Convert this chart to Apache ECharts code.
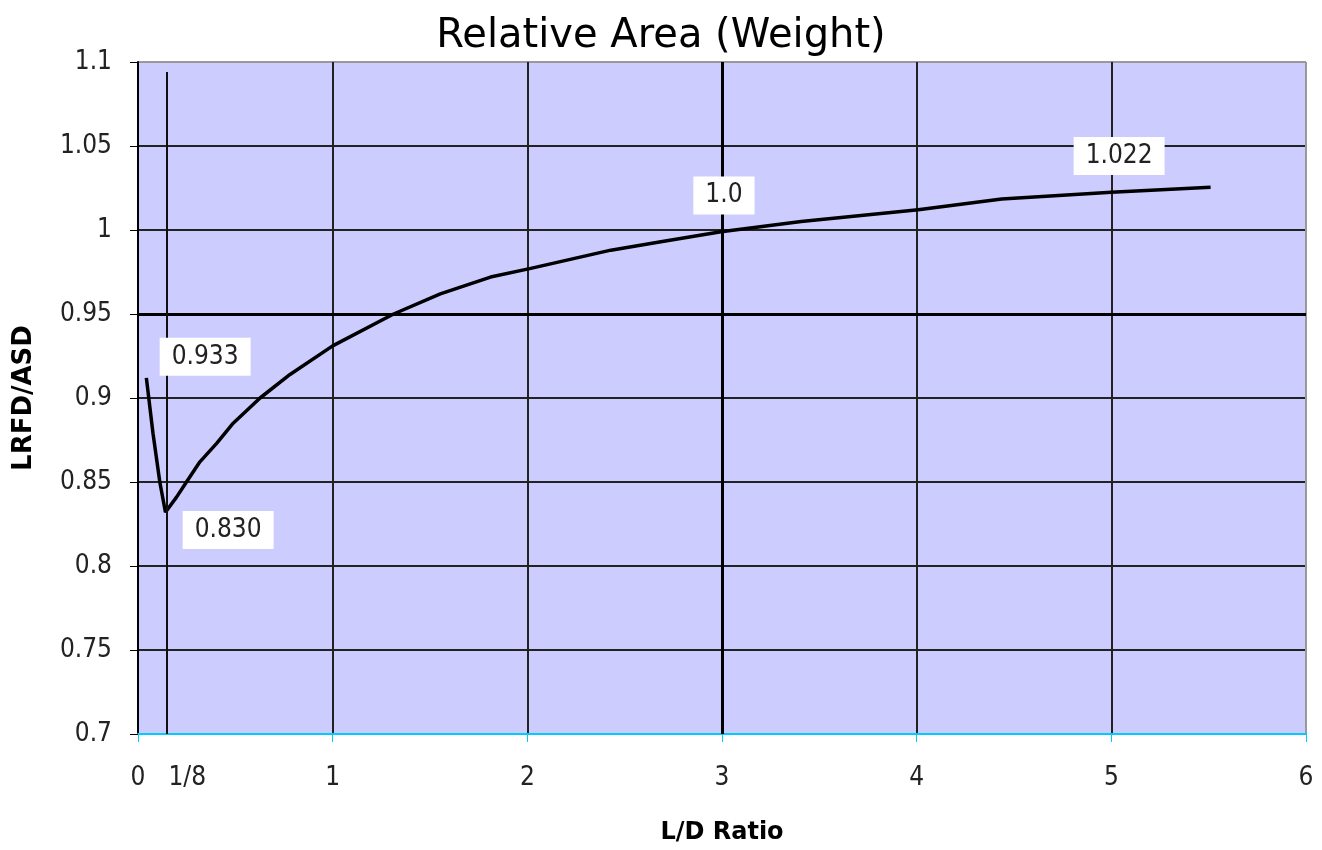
<!DOCTYPE html>
<html><head><meta charset="utf-8">
<script src="https://cdn.jsdelivr.net/npm/echarts@6/dist/echarts.min.js"></script>
<style>html,body{margin:0;padding:0;background:#fff}#c{width:1322px;height:850px}</style>
</head><body><div id="c"></div>
<script>
// L/D ratio (x) and LRFD/ASD (y)
const ldRatio = [0.043,0.077,0.112,0.141,0.198,0.249,0.318,0.404,0.489,0.627,0.781,1.0,1.313,1.553,1.811,2.012,2.429,2.686,2.995,3.407,4.008,4.437,5.0,5.51];
const lrfdAsd = [0.912,0.879,0.850,0.832,0.841,0.850,0.862,0.873,0.885,0.900,0.914,0.931,0.950,0.962,0.972,0.977,0.988,0.993,0.999,1.005,1.012,1.0185,1.0225,1.0255];
// annotation boxes
const noteText = ['0.933','0.830','1.0','1.022'];
const noteX = [0.345,0.463,3.01,5.04];
const noteY = [0.9245,0.8214,1.0205,1.044];
// reference marker lines
const eighthX = 0.15;
const refY = 0.95;
const refX = 3;

const FONT = '"DejaVu Sans Condensed","DejaVu Sans",sans-serif';
const chart = echarts.init(document.getElementById('c'), null, {renderer:'canvas'});
const gridColX = ['#222','#222','#222','#222','#222','#222','#999'];
const gridColY = ['#222','#222','#222','#222','#222','#222','#222','#222','#999'];
chart.setOption({
  animation:false,
  backgroundColor:'#fff',
  title:{text:'Relative Area (Weight)',left:'center',top:12,
    textStyle:{fontFamily:'"DejaVu Sans",sans-serif',fontSize:40,fontWeight:'normal',color:'#000'}},
  grid:{left:138,right:16,top:62,bottom:109,show:true,backgroundColor:'#CCCCFF',borderColor:'#999',borderWidth:1},
  xAxis:{type:'value',min:0,max:6,interval:1,
    name:'L/D Ratio',nameLocation:'middle',nameGap:87,
    nameTextStyle:{fontFamily:'"DejaVu Sans",sans-serif',fontSize:24,fontWeight:'bold',color:'#000'},
    axisLine:{lineStyle:{color:'#00CCFF',width:2}},
    axisTick:{show:true,length:8,lineStyle:{color:'#00CCFF',width:1}},
    axisLabel:{margin:31,fontFamily:FONT,fontSize:26,color:'#222'},
    splitLine:{show:true,lineStyle:{color:gridColX,width:2}}},
  yAxis:{type:'value',min:0.7,max:1.1,interval:0.05,
    name:'LRFD/ASD',nameLocation:'middle',nameGap:101,
    nameTextStyle:{fontFamily:'"DejaVu Sans",sans-serif',fontSize:26,fontWeight:'bold',color:'#000'},
    axisLine:{show:true,lineStyle:{color:'#000',width:2}},
    axisTick:{show:true,length:8,lineStyle:{color:'#000',width:1}},
    axisLabel:{margin:26,fontFamily:FONT,fontSize:26,color:'#222',
      formatter:v=>String(Math.round(v*100)/100)},
    splitLine:{show:true,lineStyle:{color:gridColY,width:2}}},
  series:[
    {type:'line',data:ldRatio.map((x,i)=>[x,lrfdAsd[i]]),symbol:'none',smooth:false,
     lineStyle:{color:'#000',width:3.5},z:3,
     markLine:{silent:true,symbol:'none',label:{show:false},
       lineStyle:{color:'#000',width:3,type:'solid'},
       data:[{yAxis:refY},{xAxis:refX},
         [{coord:[eighthX,0.7],lineStyle:{width:2,color:'#111'}},{coord:[eighthX,1.094]}]]}},
    {type:'scatter',symbolSize:1,z:5,silent:true,itemStyle:{opacity:1,color:'rgba(0,0,0,0)'},
     data:noteText.map((t,i)=>({value:[noteX[i],noteY[i]],name:t})),
     label:{show:true,position:'inside',opacity:1,formatter:p=>p.name,backgroundColor:'#fff',
       padding:[6,12],fontFamily:FONT,fontSize:26,lineHeight:26,color:'#222'}},
    {type:'scatter',symbolSize:1,z:5,silent:true,itemStyle:{opacity:1,color:'rgba(0,0,0,0)'},
     data:[{value:[0.253,0.7],name:'1/8'}],
     label:{show:true,position:'inside',opacity:1,offset:[0,44],formatter:p=>p.name,
       fontFamily:FONT,fontSize:26,color:'#222'}}
  ]
});
</script></body></html>
